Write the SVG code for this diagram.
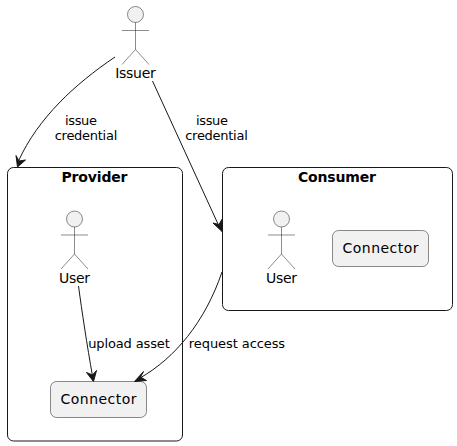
<svg xmlns="http://www.w3.org/2000/svg" width="457" height="446" viewBox="0 0 457 446">
<defs><style>
text{font-family:"DejaVu Sans",sans-serif;fill:#000;text-anchor:middle}
.n{font-size:14px}.l{font-size:13px}.t{font-size:14px;font-weight:bold}
.box{fill:#fff;stroke:#181818;stroke-width:1}
.comp{fill:#F1F1F1;stroke:#181818;stroke-width:.5}
.act{fill:none;stroke:#181818;stroke-width:.5}
.head{fill:#F1F1F1;stroke:#181818;stroke-width:.5}
.e{fill:none;stroke:#181818;stroke-width:1}
.a{fill:#181818;stroke:#181818;stroke-width:1}
</style>
<g id="stick"><circle class="head" cx="0" cy="0" r="8"/><path class="act" d="M0 8V35M-13.500 16H13.500M0 35L-13.500 50M0 35L13.500 50"/></g>
</defs>
<rect width="457" height="446" fill="#fff"/>
<g id="Provider"><rect class="box" x="7.500" y="167.500" width="175" height="273.500" rx="6"/><text class="t" x="94.500" y="182" textLength="66">Provider</text></g>
<g id="Consumer"><rect class="box" x="222.500" y="167.500" width="230" height="143" rx="6"/><text class="t" x="337" y="182" textLength="78">Consumer</text></g>
<g id="Issuer"><use href="#stick" x="135.500" y="14.500"/><text class="n" x="135.500" y="78" textLength="40.500">Issuer</text></g>
<g id="ProviderUser"><use href="#stick" x="74.500" y="219"/><text class="n" x="74.500" y="283" textLength="31">User</text></g>
<g id="ConsumerUser"><use href="#stick" x="281.500" y="219"/><text class="n" x="281.500" y="283" textLength="31">User</text></g>
<g id="ProviderConnector"><rect class="comp" x="50.500" y="381.500" width="96" height="36" rx="6"/><text class="n" x="98.500" y="404" textLength="76">Connector</text></g>
<g id="ConsumerConnector"><rect class="comp" x="332.500" y="230.500" width="96" height="36" rx="6"/><text class="n" x="380.500" y="253" textLength="76">Connector</text></g>
<g id="connectors">
<path class="e" d="M115 57C75 84 38 118 18.500 161"/><path class="a" d="M17.500 167L16 155.500L19 161L25.500 160Z"/>
<path class="e" d="M152.500 81L218 224"/><path class="a" d="M222 231.500L213 223L219 224.500L222.500 218.500Z"/>
<path class="e" d="M78.500 286C82 312 87 345 92.500 376"/><path class="a" d="M93.500 381.500L86.500 372.500L92.500 375L96.500 370.500Z"/>
<path class="e" d="M222 272C205 322 175 358 140 378"/><path class="a" d="M134.500 381.500L146.500 380.500L140.500 377L143.500 371.500Z"/>
<text class="l" x="81" y="125" textLength="32">issue</text><text class="l" x="86" y="140" textLength="62.500">credential</text>
<text class="l" x="212" y="125" textLength="32">issue</text><text class="l" x="216.500" y="140" textLength="62.500">credential</text>
<text class="l" x="129" y="348" textLength="81.700">upload asset</text>
<text class="l" x="237" y="348" textLength="96.300">request access</text>
</g>
</svg>
